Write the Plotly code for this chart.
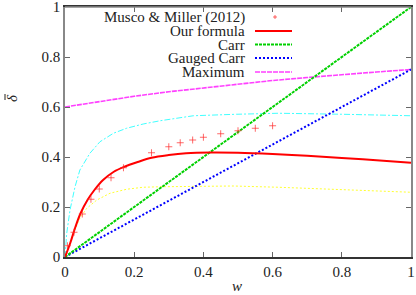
import plotly.graph_objects as go

# Musco & Miller (2012) data points
mm_w = [0.007, 0.026, 0.05, 0.075, 0.099, 0.133, 0.169, 0.25, 0.30, 0.333, 0.369, 0.40, 0.45, 0.50, 0.55, 0.60]
mm_d = [0.045, 0.099, 0.172, 0.231, 0.272, 0.317, 0.357, 0.417, 0.441, 0.457, 0.468, 0.479, 0.493, 0.505, 0.515, 0.525]

# Our formula (red)
our_w = [0, 0.015, 0.03, 0.045, 0.065, 0.085, 0.11, 0.14, 0.17, 0.21, 0.25, 0.30, 0.35, 0.42, 0.50, 0.60, 0.70, 0.80, 0.90, 1.0]
our_d = [0, 0.055, 0.12, 0.175, 0.228, 0.268, 0.308, 0.34, 0.36, 0.38, 0.397, 0.408, 0.415, 0.418, 0.417, 0.412, 0.405, 0.396, 0.387, 0.377]

# Carr and gauged Carr (straight lines)
carr_w = [0, 1]
carr_d = [0, 1]
gcarr_w = [0, 1]
gcarr_d = [0, 0.75]

# Maximum (magenta)
max_w = [0, 0.1, 0.2, 0.3, 0.4, 0.5, 0.6, 0.7, 0.8, 0.9, 1.0]
max_d = [0.6, 0.623, 0.643, 0.661, 0.677, 0.692, 0.706, 0.718, 0.730, 0.740, 0.75]

# Unlabelled cyan curve
cyan_w = [0, 0.005, 0.0145, 0.029, 0.043, 0.072, 0.101, 0.14, 0.178, 0.226, 0.275, 0.371, 0.496, 0.617, 0.8, 1.0]
cyan_d = [0, 0.095, 0.188, 0.281, 0.348, 0.415, 0.461, 0.495, 0.515, 0.532, 0.545, 0.565, 0.571, 0.575, 0.571, 0.565]

# Unlabelled yellow curve
yel_w = [0, 0.012, 0.024, 0.043, 0.063, 0.092, 0.13, 0.178, 0.226, 0.275, 0.342, 0.486, 0.617, 0.8, 1.0]
yel_d = [0, 0.05, 0.095, 0.155, 0.195, 0.228, 0.255, 0.271, 0.279, 0.281, 0.282, 0.284, 0.279, 0.27, 0.259]

x_ticks = [0, 0.2, 0.4, 0.6, 0.8, 1]
x_tick_text = ["0", "0.2", "0.4", "0.6", "0.8", "1"]
y_ticks = [0, 0.2, 0.4, 0.6, 0.8, 1]
y_tick_text = ["0", "0.2", "0.4", "0.6", "0.8", "1"]

legend_labels = ["Musco & Miller (2012)", "Our formula", "Carr", "Gauged Carr", "Maximum"]

FONT = "Liberation Serif"
TXT = "#222"
RED = "#ff0000"
GREEN = "#00d000"
BLUE = "#0000ff"
MAG = "#ff40ff"
CYAN = "#40ffff"
YEL = "#ffff30"

fig = go.Figure()

fig.add_trace(go.Scatter(x=yel_w, y=yel_d, mode="lines", line=dict(color=YEL, width=1, dash="2px,2px"), showlegend=False))
fig.add_trace(go.Scatter(x=cyan_w, y=cyan_d, mode="lines", line=dict(color=CYAN, width=1, dash="6px,2px,2px,2px"), showlegend=False))
fig.add_trace(go.Scatter(x=max_w, y=max_d, mode="lines", line=dict(color=MAG, width=1.6, dash="5px,1px"), showlegend=False))
fig.add_trace(go.Scatter(x=gcarr_w, y=gcarr_d, mode="lines", line=dict(color=BLUE, width=2, dash="2px,2px"), showlegend=False))
fig.add_trace(go.Scatter(x=carr_w, y=carr_d, mode="lines", line=dict(color=GREEN, width=2, dash="3px,1px"), showlegend=False))
fig.add_trace(go.Scatter(x=our_w, y=our_d, mode="lines", line=dict(color=RED, width=2, shape="spline"), showlegend=False))
fig.add_trace(go.Scatter(x=mm_w, y=mm_d, mode="markers",
                         marker=dict(symbol="cross-thin", size=5, line=dict(color="rgba(255,40,40,0.7)", width=1)),
                         showlegend=False))

# Manual legend (text right-aligned, sample on the right, gnuplot style)
PL, PT, PW, PH = 65, 7, 346, 250
def px(x):
    return (x - PL) / PW
def py(y):
    return (PT + PH - y) / PH

rows_y = [17, 31, 44.5, 58, 72]
sample_styles = [None,
                 dict(color=RED, width=2),
                 dict(color=GREEN, width=2, dash="3px,1px"),
                 dict(color=BLUE, width=2, dash="2px,2px"),
                 dict(color=MAG, width=1.6, dash="5px,1px")]
for lab, ry, st in zip(legend_labels, rows_y, sample_styles):
    fig.add_annotation(x=px(247), y=py(ry), xref="paper", yref="paper", text=lab, showarrow=False,
                       xanchor="right", yanchor="middle", font=dict(family=FONT, size=15, color=TXT))
    if st is None:
        fig.add_shape(type="line", xref="paper", yref="paper", x0=px(273), x1=px(277), y0=py(ry), y1=py(ry),
                      line=dict(color="rgba(255,40,40,0.7)", width=1))
        fig.add_shape(type="line", xref="paper", yref="paper", x0=px(275), x1=px(275), y0=py(ry - 2), y1=py(ry + 2),
                      line=dict(color="rgba(255,40,40,0.7)", width=1))
    else:
        fig.add_shape(type="line", xref="paper", yref="paper", x0=px(255), x1=px(292), y0=py(ry), y1=py(ry), line=st)

# y axis label (rotated delta with bar)
fig.add_annotation(x=px(12), y=py(98), xref="paper", yref="paper", text="<i>δ</i>", showarrow=False, textangle=-90,
                   font=dict(family=FONT, size=15, color=TXT), xanchor="center", yanchor="middle")
fig.add_shape(type="line", xref="paper", yref="paper", x0=px(5), x1=px(5), y0=py(94), y1=py(100),
              line=dict(color=TXT, width=1))
# x axis label
fig.add_annotation(x=px(237), y=py(286), xref="paper", yref="paper", text="<i>w</i>", showarrow=False,
                   font=dict(family=FONT, size=15, color=TXT), xanchor="center", yanchor="middle")
# top border grey
fig.add_shape(type="line", xref="paper", yref="paper", x0=0, x1=1, y0=1, y1=1, line=dict(color="#888", width=1.5))

fig.update_layout(
    width=416, height=295,
    margin=dict(l=PL, r=416 - PL - PW, t=PT, b=295 - PT - PH, autoexpand=False),
    plot_bgcolor="white", paper_bgcolor="white",
    font=dict(family=FONT, size=14, color=TXT),
    showlegend=False,
    xaxis=dict(range=[0, 1], tickvals=x_ticks, ticktext=x_tick_text, ticks="inside", ticklen=5, tickcolor="#666",
               showline=True, linecolor="#333", linewidth=1.5, mirror="ticks", showgrid=False, zeroline=False,
               tickfont=dict(family=FONT, size=15, color=TXT), automargin=False, ticklabeloverflow="allow"),
    yaxis=dict(range=[0, 1], tickvals=y_ticks, ticktext=y_tick_text, ticks="inside", ticklen=5, tickcolor="#666",
               showline=True, linecolor="#888", linewidth=1.5, mirror="ticks", showgrid=False, zeroline=False,
               tickfont=dict(family=FONT, size=15, color=TXT), automargin=False, ticklabeloverflow="allow"),
)

fig.write_html("out.html", config={"displayModeBar": False},
               post_script="document.body.style.margin='0';document.body.style.padding='0';")
